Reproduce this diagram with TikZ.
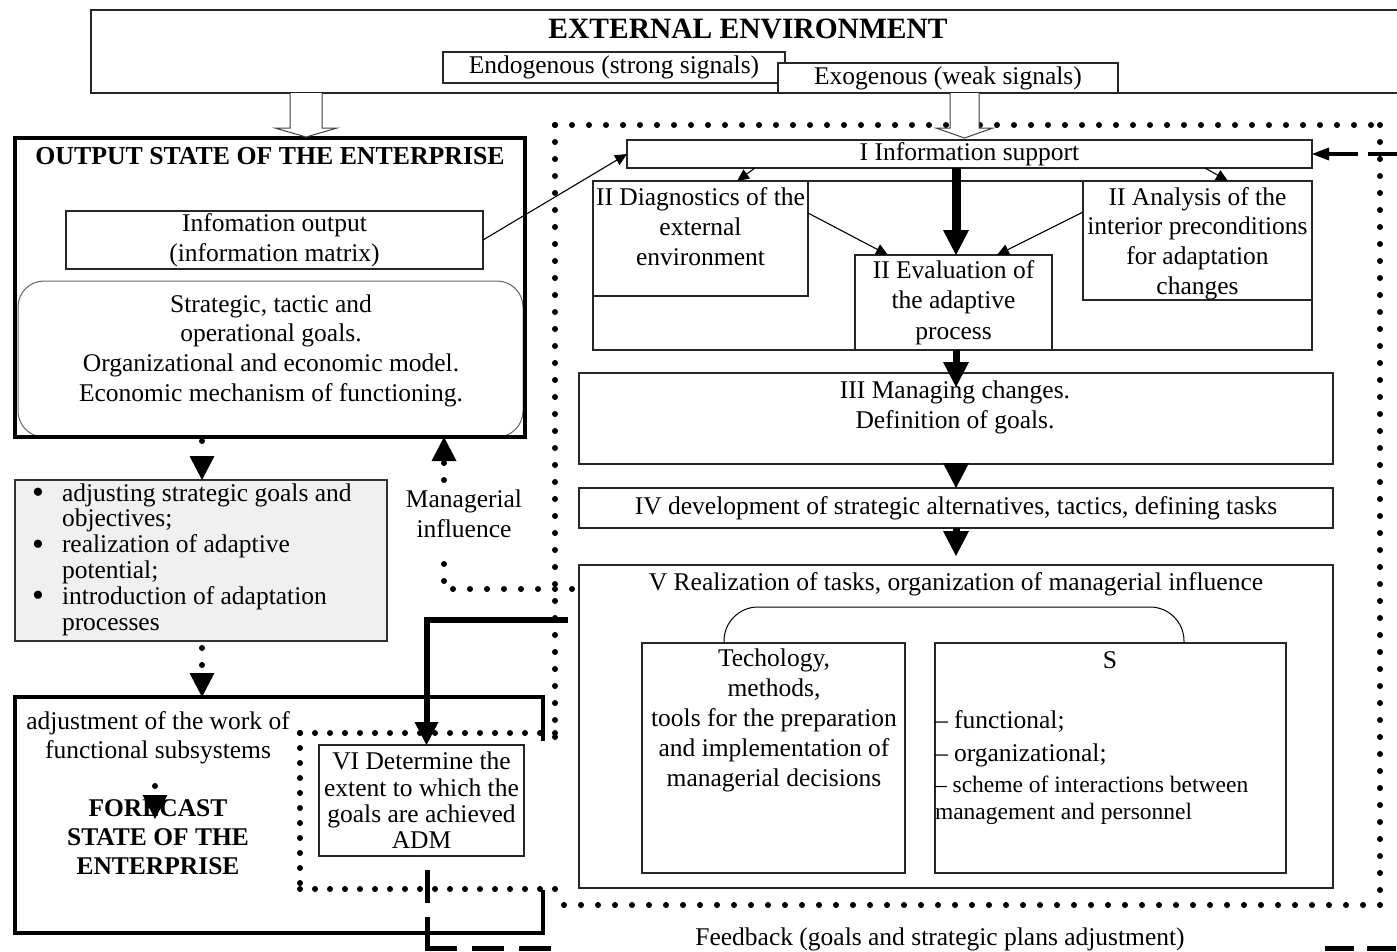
\documentclass[tikz,border=0pt]{standalone}
\usepackage{fontspec}
\setmainfont{Liberation Serif}
\usetikzlibrary{arrows.meta,calc}
\newcommand{\listdot}{\makebox[29pt][l]{\hspace*{-1pt}\raisebox{-2.5pt}{\fontsize{34}{34}\selectfont\textbullet}}}
\begin{document}
\begin{tikzpicture}[x=1pt,y=-1pt,
  every node/.style={inner sep=0pt, outer sep=0pt},
  base/.style={font=\fontsize{25.5}{30}\selectfont},
  box/.style={draw=black!85, line width=1.1pt, fill=white, base, align=center},
  txt/.style={base, align=center},
  heavy/.style={draw=black, line width=3.5pt},
  dots/.style={line width=6pt, line cap=round, dash pattern=on 0pt off 17pt},
  smalldots/.style={line width=6pt, line cap=round, dash pattern=on 0pt off 15pt},
  bighead/.style={-{Triangle[length=24pt,width=25pt,line width=0pt]}},
  thinarrow/.style={line width=1.1pt, -{Triangle[length=12pt,width=11pt]}},
  fatarrow/.style={line width=7pt, -{Triangle[length=25pt,width=26pt,line width=0pt]}},
  hollow/.style={draw=black!75, line width=1pt, fill=white},
]
\fill[white] (0,0) rectangle (1397,951);
\useasboundingbox (0,0) rectangle (1397,951);

% ---------- external environment ----------
\node[box, minimum width=1311, minimum height=83] (ext) at (746.5,51.5) {};
\node[font=\bfseries\fontsize{29.5}{34}\selectfont] (exttitle) at (748,29) {EXTERNAL ENVIRONMENT};
\node[box, minimum width=342, minimum height=31] (endo) at (614,67.5) {\raisebox{-2pt}{Endogenous (strong signals)}};
\node[box, minimum width=340, minimum height=30] (exo) at (948,78) {\raisebox{-1.5pt}{Exogenous (weak signals)}};

% ---------- output state ----------
\node[draw=black!60, line width=1pt, rounded corners=26, minimum width=505, minimum height=156] (goalsbox) at (270.5,359) {};
\node[heavy, minimum width=510, minimum height=299] (out) at (270,287.5) {};
\node[font=\bfseries\fontsize{25.8}{30}\selectfont] (outtitle) at (270,156) {OUTPUT STATE OF THE ENTERPRISE};
\node[box, minimum width=417, minimum height=58] (infoout) at (274.5,240) {Infomation output\\(information matrix)};
\node[txt, font=\fontsize{25.5}{29.7}\selectfont] (goals) at (271,350.5)
  {Strategic, tactic and\\operational goals.\\Organizational and economic model.\\Economic mechanism of functioning.};

% ---------- adaptation measures ----------
\node[draw=black!80, line width=1.1pt, fill=black!6, minimum width=372, minimum height=161] (measures) at (201,560.5) {};
\node[anchor=west, align=left, font=\fontsize{25.5}{25.8}\selectfont] (measurestxt) at (33,559.5)
  {\listdot adjusting strategic goals and\\
   \hspace*{29pt}objectives;\\
   \listdot realization of adaptive\\
   \hspace*{29pt}potential;\\
   \listdot introduction of adaptation\\
   \hspace*{29pt}processes};

% ---------- forecast state ----------
\node[minimum width=528, minimum height=236] (adjwork) at (279,815) {};
\draw[line width=4pt] ([yshift=-44pt]adjwork.north east) -- (adjwork.north east) -- (adjwork.north west)
  -- (adjwork.south west) -- (adjwork.south east) -- ([yshift=43pt]adjwork.south east);
\node[txt, font=\fontsize{25.5}{29}\selectfont] (adjtxt) at (158,738) {adjustment of the work of\\functional subsystems};
\node[font=\bfseries\fontsize{25.5}{29}\selectfont, align=center] (fore) at (158,837) {FORECAST\\STATE OF THE\\ENTERPRISE};
\node[box, minimum width=205, minimum height=111, font=\fontsize{25.5}{26.3}\selectfont] (vi) at (421.5,800.5)
  {VI Determine the\\extent to which the\\goals are achieved\\ADM};

% ---------- adaptation process ----------
\node[box, minimum width=685, minimum height=28] (infosup) at (969.5,154) {\raisebox{-1.5pt}{I Information support}};
\node[box, minimum width=719, minimum height=169] (twobox) at (952.5,265.5) {};
\node[box, minimum width=215, minimum height=115] (diag) at (700.5,238.5) {};
\node[txt] (diagtxt) at (700.5,227) {II Diagnostics of the\\external\\environment};
\node[box, minimum width=229, minimum height=119] (anal) at (1197.5,240.5) {};
\node[txt, font=\fontsize{25.5}{29.7}\selectfont] (analtxt) at (1197.5,243.5) {II Analysis of the\\interior preconditions\\for adaptation\\changes};
\node[box, minimum width=197, minimum height=95, font=\fontsize{25.5}{30.5}\selectfont] (eval) at (953.5,302.5) {II Evaluation of\\the adaptive\\process};

\node[box, minimum width=754, minimum height=91] (three) at (956,418.5) {};
\node[txt] (threetxt) at (955,407) {III Managing changes.\\Definition of goals.};
\node[box, minimum width=754, minimum height=40] (four) at (956,508) {IV development of strategic alternatives, tactics, defining tasks};
\node[box, minimum width=754, minimum height=323] (five) at (956,726.5) {};
\node[txt] (fivetxt) at (956,584) {V Realization of tasks, organization of managerial influence};
\node[box, minimum width=263, minimum height=230] (tech) at (773.5,758) {};
\node[txt] (techtxt) at (774,720) {Techology,\\methods,\\tools for the preparation\\and implementation of\\managerial decisions};
\node[box, minimum width=351, minimum height=230] (sbox) at (1110.5,758) {};
\node[txt] (stitle) at (1110,660) {S};
\node[base, anchor=west] (s1) at (935,721) {– functional;};
\node[base, anchor=west] (s2) at (935,755) {– organizational;};
\node[anchor=west, align=left, font=\fontsize{23.5}{27}\selectfont] (s3) at (935,800.5)
  {– scheme of interactions between\\management and personnel};
\draw[line width=1pt, rounded corners=34] ([xshift=-49.5pt]tech.north) |- ([xshift=73.5pt, yshift=36pt]sbox.north) -- ([xshift=73.5pt]sbox.north);

\node[txt] (fbtxt) at (940,939) {Feedback (goals and strategic plans adjustment)};

% ---------- connectors inside the process ----------
\draw[thinarrow] (infoout.east) -- (infosup.west);
\draw[thinarrow] ([xshift=-214.5pt]infosup.south) -- ([xshift=36.5pt]diag.north);
\draw[thinarrow] ([xshift=235.5pt]infosup.south) -- ([xshift=30.5pt]anal.north);
\draw[thinarrow] ([yshift=25.5pt]diag.east) -- ([xshift=33pt]eval.north west);
\draw[thinarrow] ([yshift=28.5pt]anal.west) -- ([xshift=43.5pt]eval.north);
\draw[fatarrow, line width=9pt] (infosup.south -| three.north) -- (eval.north -| three.north);
\draw[fatarrow] (eval.south -| three.north) -- ([yshift=-14pt]three.north);
\draw[fatarrow] (three.south) -- (four.north);
\draw[fatarrow] (four.south) -- ([yshift=9pt]five.north);

% managerial influence towards step VI
\coordinate (vfb) at (568,620);
\draw[line width=6pt, -{Triangle[length=23pt,width=24pt,line width=0pt]}] (vfb) -| ([xshift=5pt]vi.north);

% feedback loop
\draw[line width=5pt] ($(vi.south)+(5.5,14)$) -- ++(0,33);
\draw[line width=5pt] ($(vi.south)+(5.5,61)$) -- ++(0,33);
\coordinate (fbl1) at (424.5,948);
\coordinate (fbl2) at (553,948);
\coordinate (fbr1) at (1325,948);
\coordinate (fbr2) at (1400,948);
\draw[line width=5pt, dash pattern=on 32pt off 15pt] (fbl1) -- (fbl2);
\draw[line width=5pt, dash pattern=on 29pt off 13pt] (fbr1) -- (fbr2);
\coordinate (fbin) at (1400,154);
\coordinate (fbgap1) at (1368,154);
\coordinate (fbgap2) at (1358,154);
\draw[line width=3.5pt] (fbin) -- (fbgap1);
\draw[line width=3.5pt, -{Triangle[length=17pt,width=13pt,line width=0pt]}] (fbgap2) -- (infosup.east);

% ---------- left column flow ----------
\coordinate (lcol) at (202,0);
\draw[dots, bighead] ($(out.south -| lcol)+(0,4)$) -- (measures.north -| lcol);
\draw[dots, bighead] ($(measures.south -| lcol)+(0,7)$) -- (adjwork.north -| lcol);
\coordinate (fa) at (155,786);
\coordinate (fb) at (155,819);
\draw[dots, bighead] (fa) -- (fb);

% managerial influence back to the output state
\coordinate (mgx) at (444,0);
\coordinate (mgstart) at (572,589);
\node[txt] (mgtxt) at (464,514) {Managerial\\influence};
\draw[dots] (mgstart) -- (mgstart -| mgx) -- ++(0,-32);
\draw[dots, bighead] ($(mgtxt.north -| mgx)+(0,-10)$) -- (out.south -| mgx);

% ---------- dotted frames ----------
\draw[dots] (555,125) -- (1380,125);
\draw[dots] (1380,125) -- (1380,905);
\draw[dots] (1380,905) -- (551,905);
\draw[dots] (555,125) -- (555,740);
\draw[smalldots] (555,733) -- (300,733);
\draw[smalldots] (300,733) -- (300,889);
\draw[smalldots] (300,889) -- (555,889);

% ---------- block arrows from the environment ----------
\draw[hollow] (290,93) -- (290,128) -- (275,128) -- (306,137) -- (337,128) -- (322,128) -- (322,93);
\draw[hollow] (950,93) -- (950,128) -- (936,128) -- (964.5,138) -- (993,128) -- (979,128) -- (979,93);
\end{tikzpicture}
\end{document}
